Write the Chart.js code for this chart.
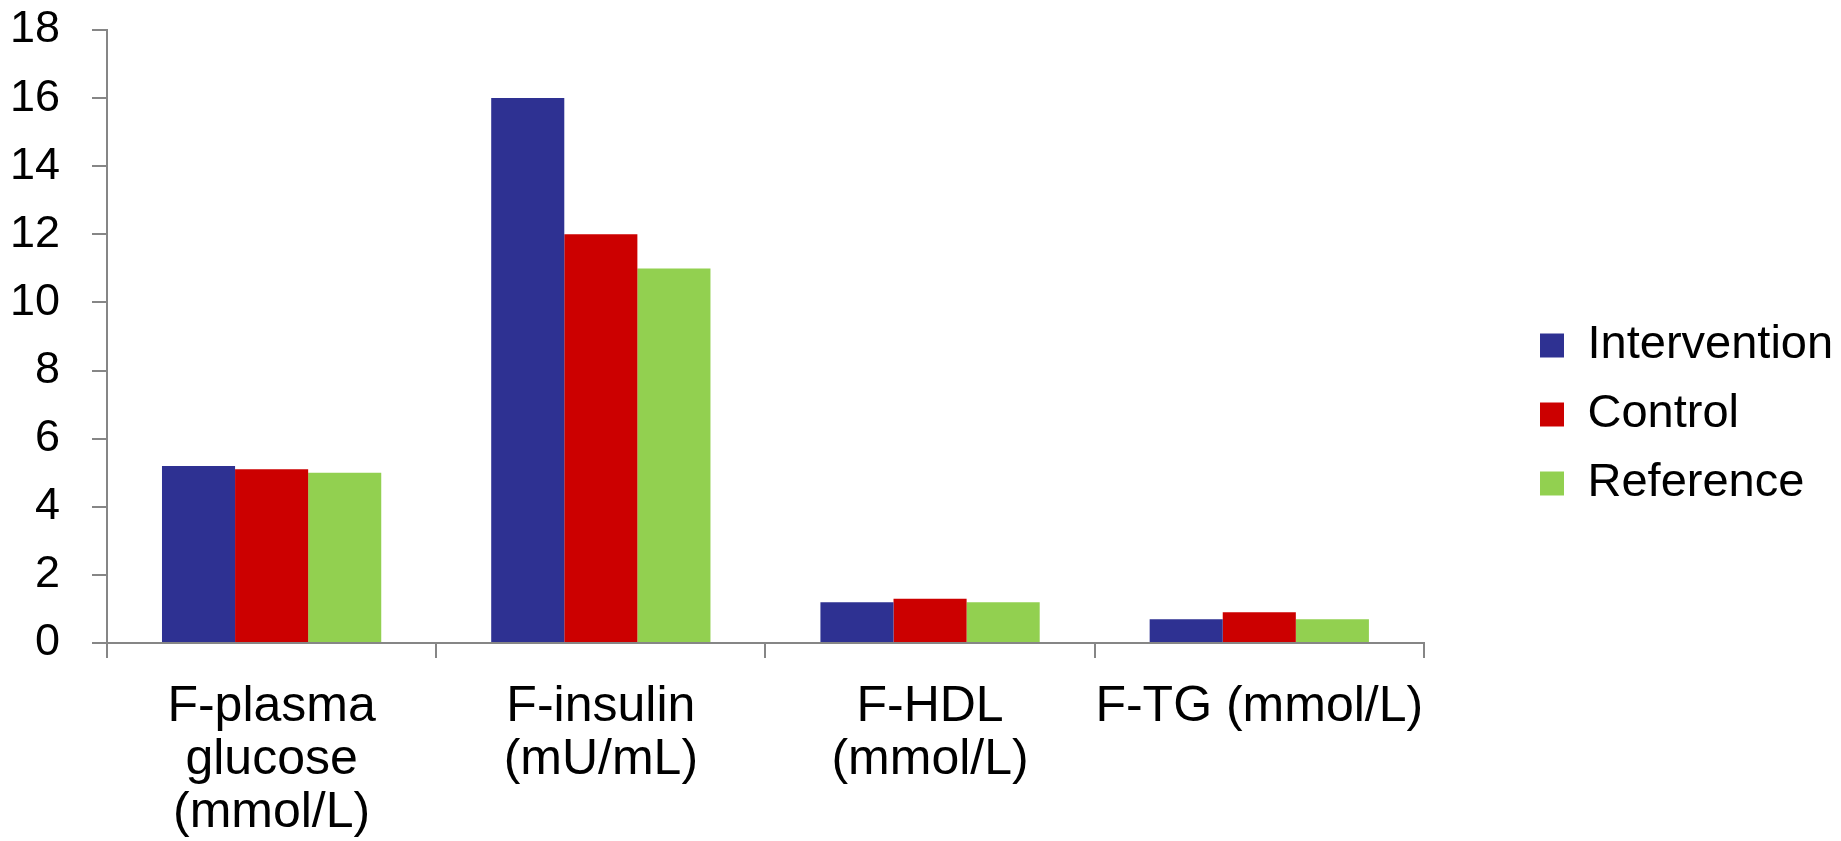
<!DOCTYPE html>
<html>
<head>
<meta charset="utf-8">
<script src="https://cdn.jsdelivr.net/npm/chart.js@4/dist/chart.umd.min.js"></script>
<style>
  html, body { margin: 0; padding: 0; background: #fff; }
  #wadah { width: 1841px; height: 841px; position: relative; }
</style>
</head>
<body>
<div id="wadah"><canvas id="grafik"></canvas></div>
<script>
// data kategori & nilai
const kategori = [
  ['F-plasma', 'glucose', '(mmol/L)'],
  ['F-insulin', '(mU/mL)'],
  ['F-HDL', '(mmol/L)'],
  ['F-TG (mmol/L)']
];
const nilaiIntervention = [5.2, 16, 1.2, 0.7];
const nilaiControl      = [5.1, 12, 1.3, 0.9];
const nilaiReference    = [5.0, 11, 1.2, 0.7];
const tickY = [0, 2, 4, 6, 8, 10, 12, 14, 16, 18];

// warna
const biru = '#2E3192';
const merah = '#CC0000';
const hijau = '#92D050';
const abu = '#868686';

document.addEventListener('DOMContentLoaded', () => {
  if (typeof Chart === 'undefined') return;
  Chart.defaults.font.family = "'Liberation Sans', Arial, sans-serif";
  Chart.defaults.color = '#000';

  const ctx = document.getElementById('grafik').getContext('2d');
  new Chart(ctx, {
    type: 'bar',
    data: {
      labels: kategori,
      datasets: [
        { label: 'Intervention', data: nilaiIntervention, backgroundColor: biru },
        { label: 'Control', data: nilaiControl, backgroundColor: merah },
        { label: 'Reference', data: nilaiReference, backgroundColor: hijau }
      ]
    },
    options: {
      responsive: true,
      maintainAspectRatio: false,
      animation: false,
      layout: { autoPadding: false, padding: { top: 30, right: 92, left: 0, bottom: 0 } },
      datasets: {
        bar: { categoryPercentage: 0.666, barPercentage: 1.0 }
      },
      plugins: {
        legend: {
          position: 'right',
          align: 'start',
          // judul kosong cuma buat geser item legend ke bawah
          title: { display: true, text: ' ', font: { size: 10, lineHeight: 1 }, padding: { top: 0, bottom: 260 } },
          labels: {
            font: { size: 47 },
            boxWidth: 24,
            boxHeight: 24,
            padding: 22,
            color: '#000'
          }
        },
        tooltip: { enabled: false }
      },
      scales: {
        x: {
          grid: { display: true, drawOnChartArea: false, tickLength: 15, color: abu, lineWidth: 2, offset: true },
          border: { display: true, color: abu, width: 2 },
          ticks: { font: { size: 50, lineHeight: 1.06 }, padding: 23, maxRotation: 0, autoSkip: false, color: '#000' },
          afterFit: s => { s.height = 198; }
        },
        y: {
          min: 0,
          max: 18,
          afterBuildTicks: s => { s.ticks = tickY.map(v => ({ value: v })); },
          grid: { display: true, drawOnChartArea: false, tickLength: 15, color: abu, lineWidth: 2 },
          border: { display: true, color: abu, width: 2 },
          ticks: { font: { size: 45 }, padding: 32, color: '#000' },
          afterFit: s => { s.width = 107; s.paddingTop = 0; s.paddingBottom = 0; }
        }
      }
    },
    plugins: [{
      id: 'latarPutih',
      beforeDraw: c => {
        const g = c.ctx;
        g.save();
        g.fillStyle = '#fff';
        g.fillRect(0, 0, c.width, c.height);
        g.restore();
      }
    }, {
      // geser legend ke kanan biar ada jarak sama area grafik
      id: 'geserLegend',
      afterLayout: c => {
        const lg = c.legend;
        const dx = 1518 - lg.left;
        lg.left += dx;
        lg.right += dx;
      }
    }]
  });
});
</script>
</body>
</html>
